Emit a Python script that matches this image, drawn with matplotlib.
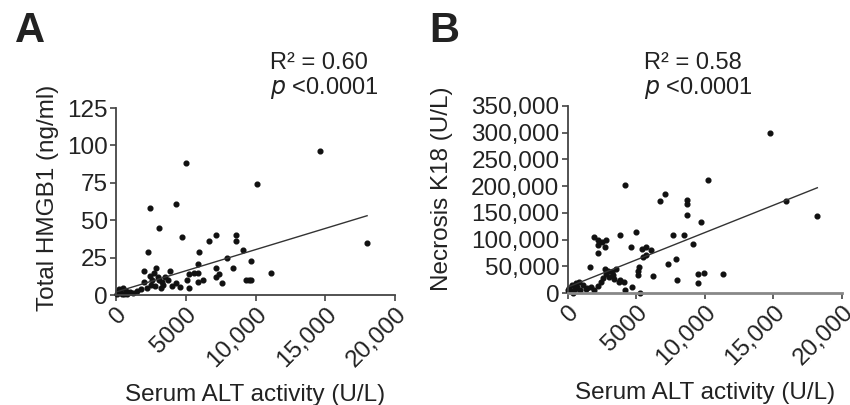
import matplotlib.pyplot as plt
from matplotlib.ticker import FuncFormatter

plt.rcParams['font.family'] = ['Liberation Sans', 'DejaVu Sans']

# Panel A: serum ALT (U/L) vs total HMGB1 (ng/ml)
alt_a = [5050, 14600, 10100, 4280, 2430, 3100, 4700, 6660, 7140, 8600, 8600, 18000,
         2300, 5950, 9100, 9700, 11100, 9300, 9700, 9500, 7950, 8400, 7200, 7400,
         7200, 7600, 6200, 5900, 5600, 5900, 5900, 5200, 5100, 5200, 4600, 3900,
         3700, 2000, 2400, 2700, 2900, 3000, 3300, 3400, 2000, 2500, 2800, 3200,
         1500, 3100, 3500, 2600, 4300, 4000, 2200, 1000, 700, 400, 200, 300, 100,
         500, 800, 1200, 150, 600, 1800]
hmgb1 = [88, 96, 74, 61, 58, 45, 39, 36, 40, 40, 36, 35,
         29, 29, 30, 23, 15, 10, 10, 10, 25, 18, 18, 14,
         12, 8, 10, 21, 15, 15, 9, 14, 10, 4.5, 5.5, 16,
         10, 16, 12.5, 15, 18, 12, 9, 7, 9, 7, 6, 5,
         3, 10, 12, 10, 8, 6, 5, 2, 3, 1, 4, 2, 0.5,
         5, 1, 1.5, 3, 0.5, 4]
fit_a_x = [0, 18000]
fit_a_y = [2, 53]

# Panel B: serum ALT (U/L) vs necrosis K18 (U/L)
alt_b = [14750, 10240, 4200, 7100, 6700, 8700, 8700, 8700, 9750, 18200, 15900,
         5000, 3800, 7700, 8450, 1900, 2200, 2500, 2800, 2200, 2700, 4600, 5400,
         5700, 6100, 9100, 2200, 5500, 5700, 7900, 7300, 1600, 5200, 5100, 5100,
         6200, 8000, 9500, 9900, 9500, 11300,
         2700, 2900, 3200, 2800, 3000, 3400, 3700, 2400, 2200, 1700, 1900, 4200,
         4700, 5300, 3800, 4100, 3300, 2600, 1400, 3500,
         100, 300, 500, 700, 900, 200, 1100, 600, 400, 800, 1300, 50]
k18 = [300000, 212000, 202000, 186000, 172000, 174000, 166000, 146000, 133000, 144000, 172000,
       114000, 108000, 108000, 108000, 105000, 100000, 95000, 100000, 90000, 86000, 86000, 83000,
       86000, 80000, 92000, 74000, 68000, 72000, 64000, 55000, 49000, 49000, 42000, 33000,
       31000, 25000, 36000, 37000, 19000, 36000,
       45000, 42000, 39000, 36000, 30000, 27000, 21000, 21000, 14000, 11000, 5000, 5000,
       11000, 0, 24000, 20000, 34000, 28000, 10000, 45000,
       10000, 15000, 8000, 12000, 5000, 3000, 15000, 18000, 0, 20000, 8000, 5000]
fit_b_x = [0, 18200]
fit_b_y = [11000, 197000]

x_ticks = [0, 5000, 10000, 15000, 20000]
x_ticklabels = ['0', '5000', '10,000', '15,000', '20,000']
ya_ticks = [0, 25, 50, 75, 100, 125]
yb_ticks = [0, 50000, 100000, 150000, 200000, 250000, 300000, 350000]

txt = '#222222'
fig = plt.figure(figsize=(8.5, 4.05), dpi=100)
ax_a = fig.add_axes([0.1365, 0.2716, 0.3282, 0.4617])
ax_b = fig.add_axes([0.668, 0.2765, 0.3226, 0.4618])


def style(ax):
    for s in ['top', 'right']:
        ax.spines[s].set_visible(False)
    for s in ['left', 'bottom']:
        ax.spines[s].set_color('#444444')
        ax.spines[s].set_linewidth(1.3)
    ax.set_xlim(0, 20000)
    ax.set_xticks(x_ticks)
    ax.set_xticklabels(x_ticklabels, rotation=45, ha='right', va='top',
                       rotation_mode='anchor')
    ax.tick_params(axis='both', colors='#444444', labelcolor=txt, labelsize=17.5,
                   length=4, width=1.2, pad=2)
    ax.set_xlabel('Serum ALT activity (U/L)', fontsize=17.5, color=txt, labelpad=9)


ax_a.plot(alt_a, hmgb1, 'o', color='#111111', markersize=3.4, clip_on=False)
ax_a.plot(fit_a_x, fit_a_y, color='#333333', linewidth=1.0)
style(ax_a)
ax_a.set_ylim(0, 125)
ax_a.set_yticks(ya_ticks)
ax_a.set_ylabel('Total HMGB1 (ng/ml)', fontsize=17.5, color=txt)
ax_a.yaxis.set_label_coords(-0.205, 0.52)

ax_b.plot(alt_b, k18, 'o', color='#111111', markersize=3.4, clip_on=False)
ax_b.plot(fit_b_x, fit_b_y, color='#333333', linewidth=1.0)
style(ax_b)
ax_b.set_ylim(0, 350000)
ax_b.set_yticks(yb_ticks)
ax_b.yaxis.set_major_formatter(FuncFormatter(lambda v, p: '0' if v == 0 else f'{int(v):,}'))
ax_b.spines['bottom'].set_color('#888888')
ax_b.spines['bottom'].set_linewidth(2.0)
ax_b.set_ylabel('Necrosis K18 (U/L)', fontsize=17.5, color=txt)
ax_b.yaxis.set_label_coords(-0.42, 0.56)

# panel letters and statistics
fig.text(0.018, 0.923, 'A', fontsize=30, fontweight='bold', color=txt, va='center')
fig.text(0.505, 0.923, 'B', fontsize=30, fontweight='bold', color=txt, va='center')
fig.text(0.318, 0.845, 'R² = 0.60', fontsize=17, color=txt, va='center')
fig.text(0.318, 0.783, '$\\it{p}$ <0.0001', fontsize=17, color=txt, va='center')
fig.text(0.758, 0.845, 'R² = 0.58', fontsize=17, color=txt, va='center')
fig.text(0.758, 0.783, '$\\it{p}$ <0.0001', fontsize=17, color=txt, va='center')

fig.savefig('out.png', dpi=100)
